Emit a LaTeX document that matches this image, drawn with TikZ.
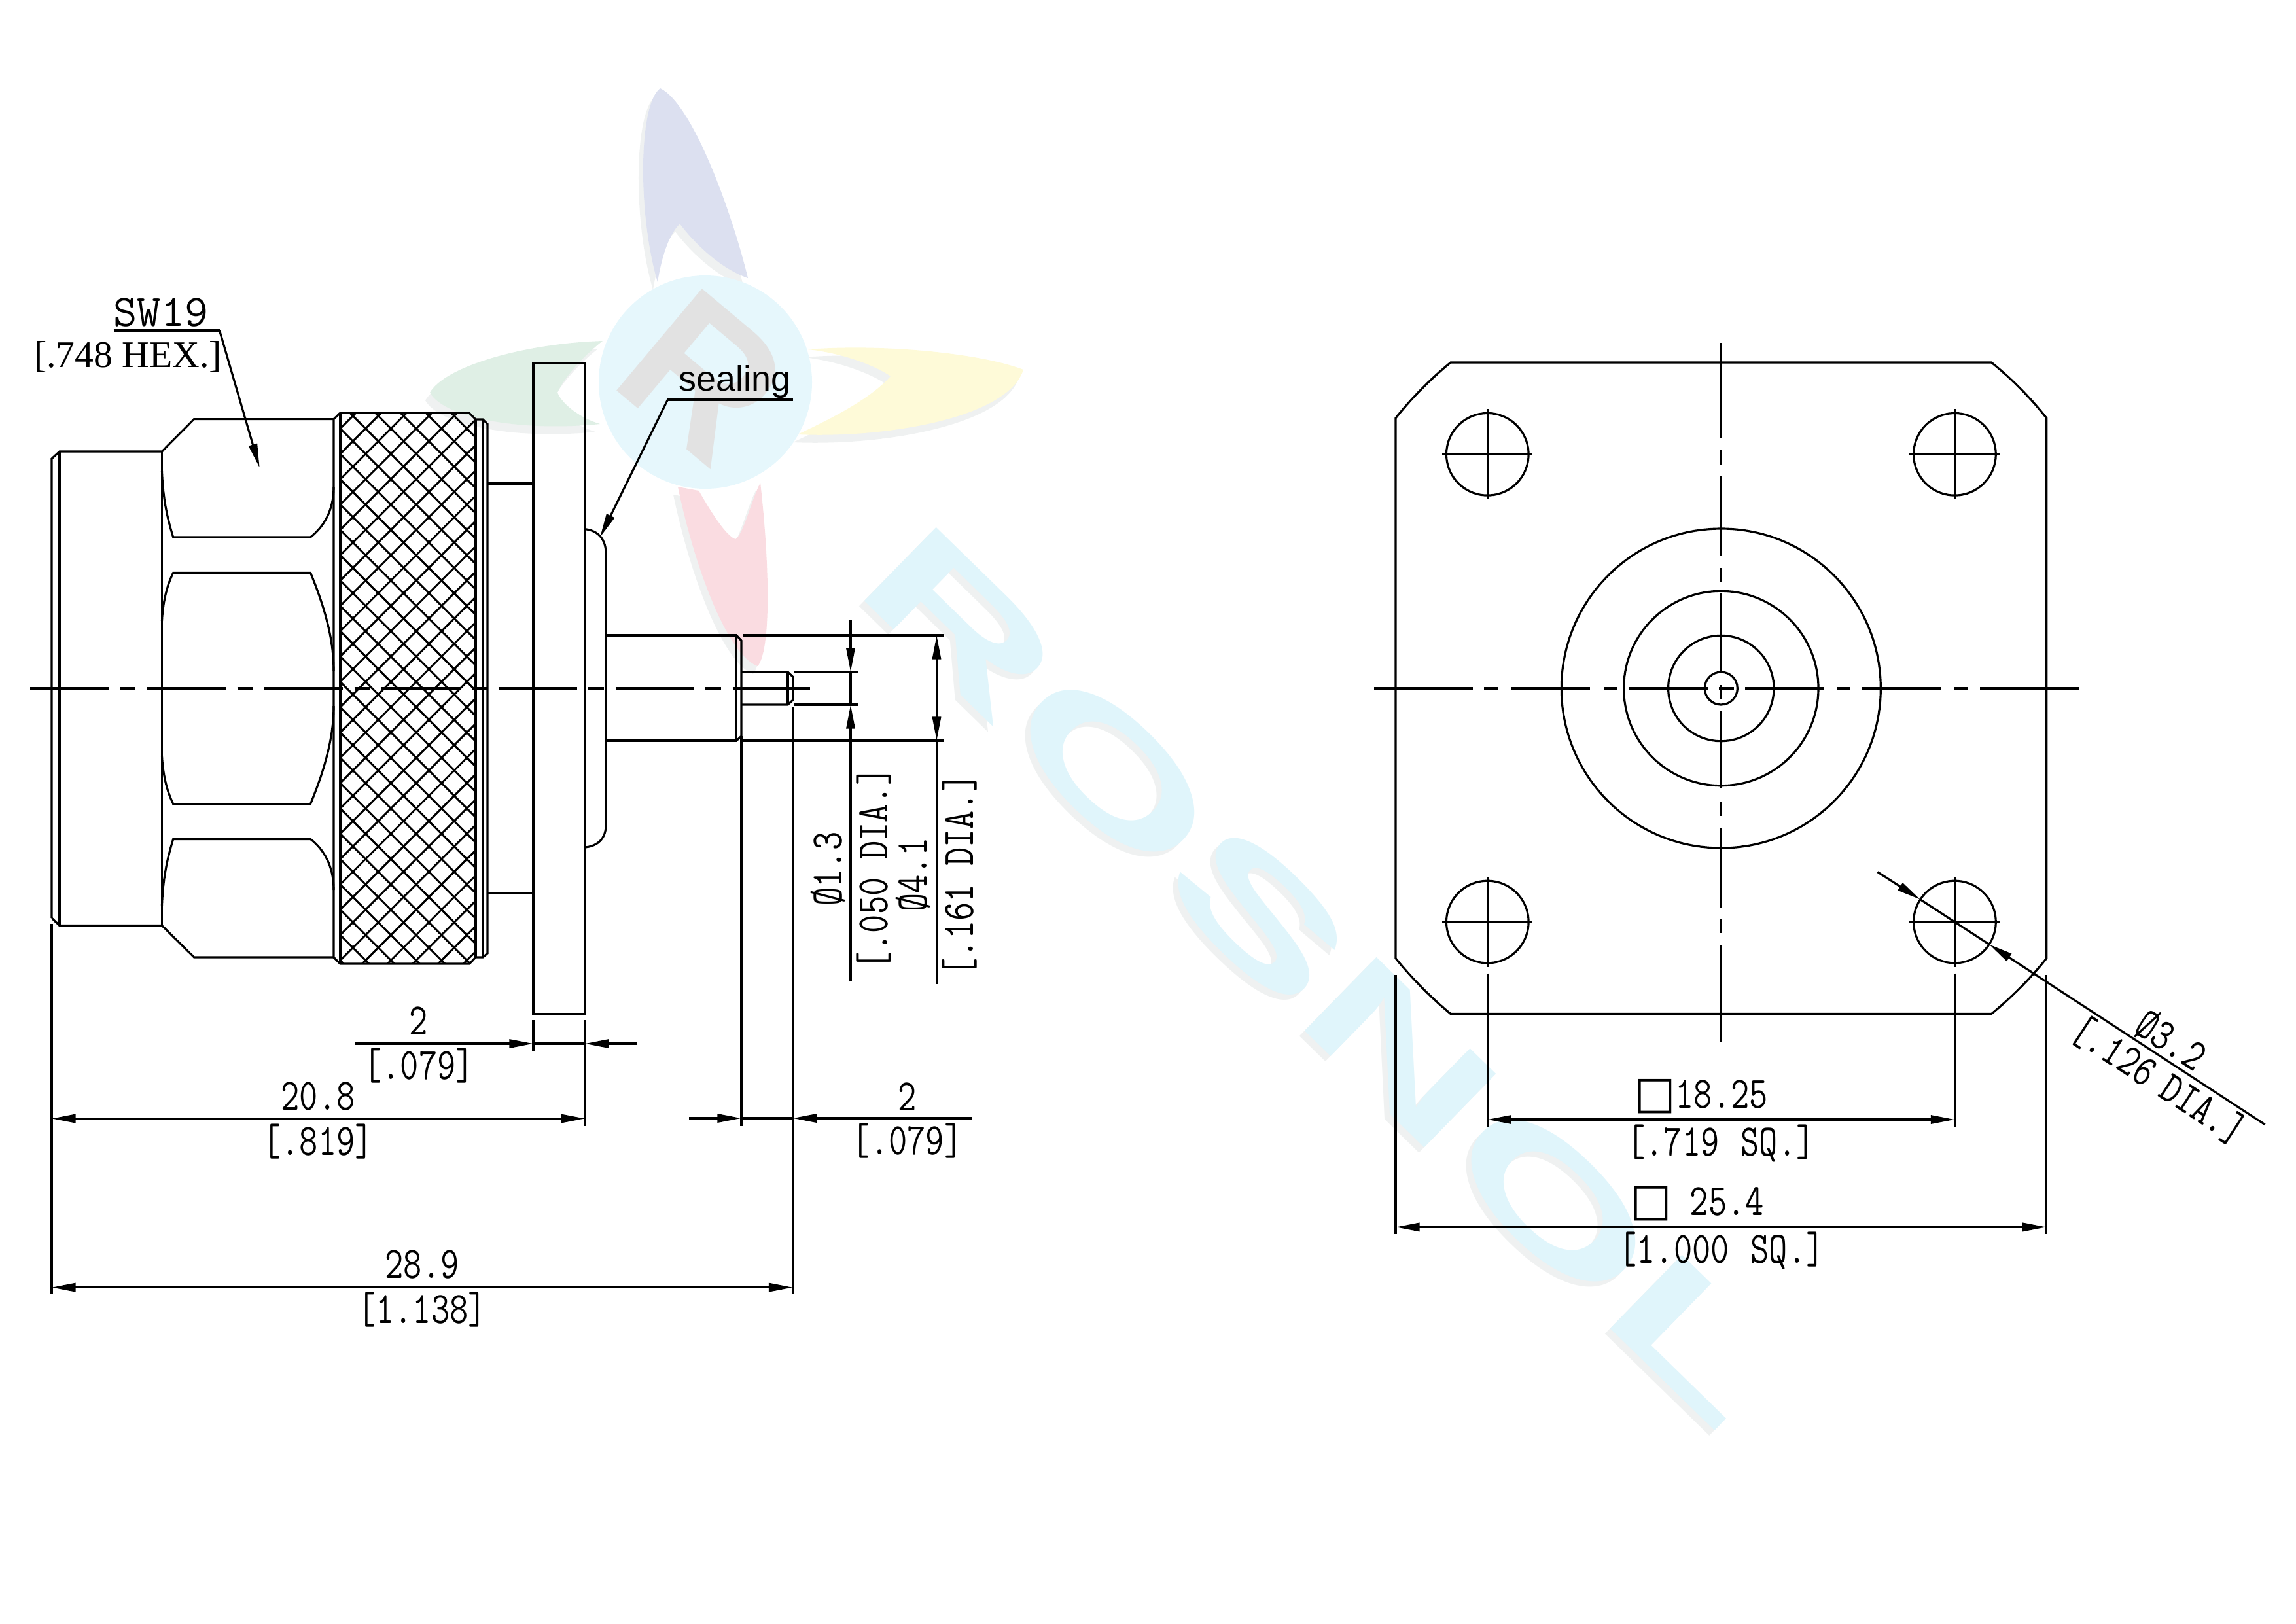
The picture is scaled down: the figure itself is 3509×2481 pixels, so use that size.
\documentclass[tikz,border=0pt]{standalone}
\usepackage{fontspec}
\usepackage{tikz}
\usetikzlibrary{arrows.meta}
\newfontfamily\hexfont{Liberation Serif}
\newfontfamily\sealfont{Liberation Sans}
\newfontfamily\symfont{DejaVu Sans}
\newcommand{\sqglyph}{\scalebox{1.2}[1]{\symfont □}}
\definecolor{wmcyan}{HTML}{E0F5FB}
\definecolor{wmshade}{HTML}{EFF1F1}
\definecolor{wmblue}{HTML}{DCE0F0}
\definecolor{wmred}{HTML}{FADCE1}
\definecolor{wmgreen}{HTML}{DFEFE5}
\definecolor{wmyellow}{HTML}{FEFAD8}
\definecolor{wmgrey}{HTML}{E2E2E2}
\def\petalblue{(1009,135) .. controls (1060,160) and (1120,330) .. (1143,425) .. controls (1100,410) and (1060,370) .. (1039,342) .. controls (1020,360) and (1010,400) .. (1005,431) .. controls (975,330) and (975,160) .. cycle}
\def\petalred{(1036,744) .. controls (1060,860) and (1110,1000) .. (1158,1018) .. controls (1180,990) and (1175,850) .. (1162,738) .. controls (1150,760) and (1135,820) .. (1124,824) .. controls (1110,820) and (1085,780) .. (1068,750) -- cycle}
\def\petalgreen{(657,600) .. controls (680,560) and (800,525) .. (921,521) .. controls (890,545) and (860,580) .. (852,600) .. controls (860,620) and (890,640) .. (917,648) .. controls (800,660) and (680,640) .. cycle}
\def\petalyellow{(1564,565) .. controls (1500,540) and (1350,525) .. (1235,534) .. controls (1290,540) and (1340,560) .. (1361,575) .. controls (1330,610) and (1270,640) .. (1219,664) .. controls (1350,670) and (1540,640) .. cycle}
\begin{document}
\begin{tikzpicture}[x=0.01cm,y=-0.01cm,line width=0.9pt,
    dimtext/.style={font=\ttfamily\fontsize{19.5}{20}\selectfont,xscale=0.8,inner sep=0pt},
    dimarrow/.style={-{Triangle[length=10.4pt,width=3.7pt]}},
    bothways/.style={{Triangle[length=10.4pt,width=3.7pt]}-{Triangle[length=10.4pt,width=3.7pt]}},
    centreline/.style={dash pattern=on 34.1pt off 5pt on 6.8pt off 5pt},
    knurl/.style={line width=0.85pt}]
\useasboundingbox (0,0) rectangle (3509,2481);

% watermark
\foreach \c/\s in {wmshade/8,wmcyan/0} {
\begin{scope}[shift={(-\s,\s)}]
\node [font=\sealfont\bfseries\fontsize{65}{65}\selectfont,text=\c,rotate=-44.3,xscale=1.9,inner sep=0pt] (wm\c) at (2020,1491) {ROSNOL};
\end{scope}
}
\begin{scope}[shift={(-7,12)}]
\fill [wmshade] \petalblue;
\fill [wmshade] \petalred;
\fill [wmshade] \petalgreen;
\fill [wmshade] \petalyellow;
\end{scope}
\fill [wmblue] \petalblue;
\fill [wmred] \petalred;
\fill [wmgreen] \petalgreen;
\fill [wmyellow] \petalyellow;
\fill [wmcyan!80!white] (1078,584) circle (163);
\node [font=\sealfont\bfseries\fontsize{84}{84}\selectfont,text=wmgrey,rotate=-40,inner sep=0pt] (logor) at (1075,575) {R};

% plug and hexagon
\draw (79,1403) -- (79,701) -- (91,690) -- (247.5,690) -- (296.6,640.6) -- (510,640.6);
\draw (79,1403) -- (91,1414.5) -- (247.5,1414.5) -- (296.6,1463) -- (510,1463);
\draw (91,690) -- (91,1414.5);
\draw (247.5,690) -- (247.5,1414.5);
\draw (247.5,720) .. controls (249,760) and (255,790) .. (264.7,821) -- (474.5,821) .. controls (495,805) and (510,780) .. (510,744);
\draw (247.5,949) .. controls (249,920) and (255,895) .. (264.7,875.4) -- (474.5,875.4) .. controls (495,925) and (510,975) .. (510,1025);
\draw (247.5,1155) .. controls (249,1184) and (255,1209) .. (264.7,1228.6) -- (474.5,1228.6) .. controls (495,1179) and (510,1129) .. (510,1079);
\draw (247.5,1384) .. controls (249,1344) and (255,1314) .. (264.7,1282.4) -- (474.5,1282.4) .. controls (495,1298) and (510,1324) .. (510,1360);

% knurled ring
\begin{scope}
\clip (520,631) rectangle (726,1473);
\foreach \n in {-22,...,6} {
\draw [knurl] (496+38.7*\n,631) -- (1338+38.7*\n,1473);
}
\foreach \n in {-2,...,27} {
\draw [knurl] (544+38.7*\n,631) -- (-298+38.7*\n,1473);
}
\end{scope}
\draw (510,640.6) -- (520,631) -- (717,631) -- (727,641) -- (738,641) -- (745,648) -- (745,1457) -- (738,1463) -- (727,1463) -- (717.5,1473) -- (520,1473) -- (510,1463) -- cycle;
\draw (520,631) -- (520,1473);
\draw (727,641) -- (727,1463);
\draw (738,641) -- (738,1463);

% flange, sealing and pins
\draw (745,739) -- (815,739);
\draw (745,1365) -- (815,1365);
\draw (815,554.5) rectangle (894,1549.5);
\draw (894,808.6) .. controls (915,811) and (926,825) .. (926,846) -- (926,1261) .. controls (926,1280) and (915,1293) .. (894,1295);
\draw (926,971) -- (1125.5,971) -- (1125.5,1132) -- (926,1132);
\draw (1125.5,971) -- (1133,979) -- (1133,1125) -- (1125.5,1132);
\draw (1133,1027) -- (1204,1027) -- (1212,1034.5) -- (1212,1069.6) -- (1204,1077) -- (1133,1077);
\draw (1204,1027) -- (1204,1077);
\draw [centreline] (46,1052) -- (1238,1052);

% dimensions of the side view
\draw (1135,971) -- (1443,971);
\draw (1135,1132) -- (1443,1132);
\draw (1213,1027) -- (1312,1027);
\draw (1213,1077) -- (1312,1077);
\draw [dimarrow] (1300,948) -- (1300,1027);
\draw (1300,1027) -- (1300,1077);
\draw [dimarrow] (1300,1500) -- (1300,1077);
\draw [bothways] (1431.5,971) -- (1431.5,1132);
\draw (1431.5,1132) -- (1431.5,1504);
\node [rotate=90,dimtext] (lab13) at (1266,1328) {Ø1.3};
\node [rotate=90,dimtext] (lab050) at (1336,1327.5) {[.050\hspace{.5em}DIA.]};
\node [rotate=90,dimtext] (lab41) at (1396,1337) {Ø4.1};
\node [rotate=90,dimtext] (lab161) at (1467,1337.5) {[.161\hspace{.5em}DIA.]};

\draw (79,1412) -- (79,1978);
\draw (815,1559) -- (815,1606);
\draw (894,1559) -- (894,1721);
\draw (1133,1125) -- (1133,1721);
\draw (1211.5,1080) -- (1211.5,1978);
\draw [dimarrow] (542,1595) -- (815,1595);
\draw (815,1595) -- (894,1595);
\draw [dimarrow] (974,1595) -- (894,1595);
\draw [bothways] (79,1709.5) -- (894,1709.5);
\draw [bothways] (79,1967.6) -- (1211.5,1967.6);
\draw [dimarrow] (1053,1709) -- (1133,1709);
\draw (1133,1709) -- (1211.5,1709);
\draw [dimarrow] (1485,1709) -- (1211.5,1709);
\node [dimtext] (lab2a) at (640,1560) {2};
\node [dimtext] (lab079a) at (640,1629) {[.079]};
\node [dimtext] (lab208) at (486,1676) {20.8};
\node [dimtext] (lab819) at (486,1745) {[.819]};
\node [dimtext] (lab289) at (645,1933) {28.9};
\node [dimtext] (lab1138) at (645,2002) {[1.138]};
\node [dimtext] (lab2b) at (1386.6,1676) {2};
\node [dimtext] (lab079b) at (1386.6,1744) {[.079]};

% hexagon and sealing leaders
\draw (173.5,505) -- (335.5,505);
\draw [dimarrow] (335.5,505) -- (396.7,714.7);
\node [dimtext,xscale=1.28] (labsw) at (246,478) {SW19};
\node [font=\hexfont\fontsize{16.4}{17}\selectfont,inner sep=0pt] (labhex) at (195.5,545) {[.748 HEX.]};
\draw (1211.7,611) -- (1020.4,611);
\draw [dimarrow] (1020.4,611) -- (917,821);
\node [font=\sealfont\fontsize{15.3}{16}\selectfont,inner sep=0pt] (labseal) at (1123,584) {sealing};

% front view
\draw (2217,554) -- (3043.5,554) .. controls (3071,576) and (3101,605) .. (3127.7,639) -- (3127.7,1464.6) .. controls (3101,1498) and (3071,1527) .. (3043.5,1549.5) -- (2217,1549.5) .. controls (2190,1527) and (2160,1498) .. (2133,1464.6) -- (2133,639) .. controls (2160,605) and (2190,576) .. cycle;
\foreach \r in {244,148.7,80.7,25} {
\draw (2630.3,1052) circle (\r);
}
\foreach \a/\b in {-530/-379,-362/-341,-321/-200,-179/-158,-141/-20,-3/20,37/158,177/198,216/337,356/377,396/547} {
\draw (2630.3+\a,1052) -- (2630.3+\b,1052);
}
\foreach \a/\b in {-528/-382,-364/-342,-324/-203,-184/-163,-145/-26,-5/17,35/153,174/195,214/335,353/374,393/540} {
\draw (2630.3,1052+\a) -- (2630.3,1052+\b);
}
\foreach \hx in {2273.3,2987.4} {
\foreach \hy in {694.3,1409} {
\draw (\hx,\hy) circle (62.8);
\draw (\hx-69,\hy) -- (\hx+69,\hy);
\draw (\hx,\hy-69) -- (\hx,\hy+69);
}
}

% dimensions of the front view
\draw (2273.3,1487.5) -- (2273.3,1722);
\draw (2987.4,1487.5) -- (2987.4,1722);
\draw (2133,1490) -- (2133,1886);
\draw (3127.7,1490) -- (3127.7,1886);
\draw [bothways] (2273.3,1711) -- (2987.4,1711);
\draw [bothways] (2133,1875.4) -- (3127.7,1875.4);
\node [dimtext] (lab1825) at (2600,1676) {\sqglyph18.25};
\node [dimtext] (lab719) at (2630,1747) {[.719\hspace{.6em}SQ.]};
\node [dimtext] (lab254) at (2594,1840) {\sqglyph{} 25.4};
\node [dimtext] (lab1000) at (2631,1911) {[1.000\hspace{.6em}SQ.]};
\draw [dimarrow] (2869.5,1332.7) -- (2934.8,1374.7);
\draw (2934.8,1374.7) -- (3040,1443.3);
\draw [dimarrow] (3461.6,1718.75) -- (3040,1443.3);
\node [rotate=-33.1,dimtext] (lab32) at (3318,1590) {Ø3.2};
\node [rotate=-33.1,dimtext] (lab126) at (3299,1651) {[.126\hspace{.4em}DIA.]};
\end{tikzpicture}
\end{document}
